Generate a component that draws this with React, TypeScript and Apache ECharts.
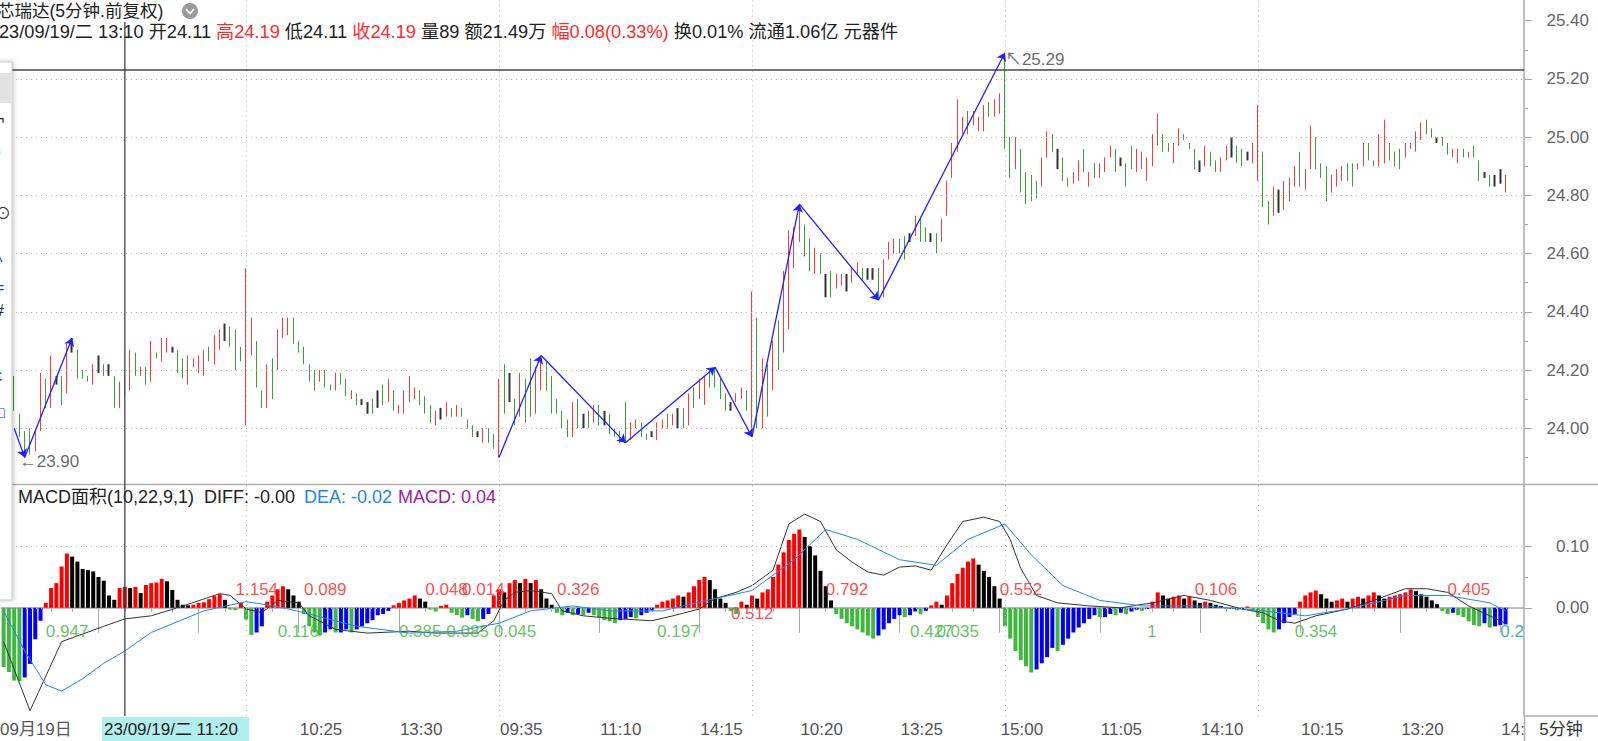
import React, { useEffect, useRef } from 'react';
import * as echarts from 'echarts';

const FONT = 'Arial, "Liberation Sans", "Noto Sans CJK SC", sans-serif';
const C_RED = '#ff3838';
const C_GREEN = '#3a9e3a';
const C_FLAT = '#333333';
const M_RED = '#ff0000';
const M_BLACK = '#000000';
const M_GREEN = '#40b840';
const M_BLUE = '#0000ff';

function hhmm(m: number) {
  return String(Math.floor(m / 60)).padStart(2, '0') + ':' + String(m % 60).padStart(2, '0');
}
const SESSION: string[] = [];
for (let m = 9 * 60 + 35; m <= 11 * 60 + 30; m += 5) SESSION.push(hhmm(m));
for (let m = 13 * 60 + 5; m <= 15 * 60; m += 5) SESSION.push(hhmm(m));

// 286 five-minute bars: 09-19 09:45 ... 09-26 15:00
const categories: string[] = Array.from({ length: 286 }, (_, j) => SESSION[(j + 2) % 48]);

const barHigh: (number | null)[] = [null, null,
  24.18,24.05,23.99,24.00,23.99,24.19,24.17,24.25,24.18,24.18,
  24.29,24.31,24.27,24.20,24.18,24.22,24.25,24.22,24.22,24.18,
  24.16,24.19,24.27,24.26,24.21,24.21,24.30,24.26,24.31,24.31,
  24.28,24.27,24.24,24.25,24.24,24.25,24.27,24.28,24.32,24.34,
  24.36,24.35,24.34,24.28,24.55,24.38,24.30,24.13,24.22,24.24,
  24.34,24.38,24.38,24.38,24.30,24.28,24.22,24.20,24.20,24.20,
  24.15,24.19,24.19,24.17,24.13,24.12,24.10,24.09,24.10,24.13,
  24.15,24.17,24.13,24.08,24.13,24.18,24.14,24.13,24.11,24.08,
  24.06,24.07,24.09,24.07,24.08,24.07,24.03,24.01,23.99,24.00,
  24.00,23.98,24.17,24.22,24.19,24.10,24.19,24.17,24.24,24.21,
  24.25,24.23,24.18,24.10,24.06,24.03,24.09,24.10,24.05,24.06,
  24.08,24.08,24.06,24.05,24.00,23.99,24.09,24.02,24.03,24.02,
  23.98,23.99,24.02,24.03,24.05,24.05,24.07,24.07,24.12,24.14,
  24.17,24.18,24.20,24.21,24.17,24.12,24.09,24.12,24.14,24.13,
  24.47,24.38,24.24,24.22,24.30,24.37,24.54,24.68,24.69,24.77,
  24.70,24.65,24.62,24.60,24.53,24.54,24.53,24.53,24.53,24.55,
  24.57,24.55,24.55,24.55,24.55,24.58,24.64,24.65,24.65,24.66,
  24.67,24.73,24.72,24.69,24.67,24.67,24.72,24.85,24.98,25.13,
  25.07,25.09,25.09,25.07,25.11,25.12,25.13,25.15,25.29,25.00,
  25.00,24.96,24.88,24.87,24.85,24.93,25.02,25.01,24.96,24.93,
  24.86,24.88,24.92,24.96,24.88,24.91,24.91,24.93,24.97,24.96,
  24.93,24.91,24.97,24.96,24.95,24.93,25.01,25.08,25.01,24.98,
  24.98,25.03,25.01,24.98,24.96,24.92,24.97,24.95,24.92,24.93,
  24.97,25.00,24.97,24.96,24.95,24.98,25.11,24.95,24.78,24.83,
  24.82,24.85,24.86,24.90,24.95,24.89,25.04,25.00,24.91,24.90,
  24.87,24.89,24.90,24.91,24.91,24.91,24.98,24.98,24.92,25.01,
  25.06,24.98,24.95,24.96,24.98,24.98,25.02,25.05,25.06,25.03,
  25.00,25.00,24.98,24.96,24.96,24.96,24.95,24.97,24.92,24.88,
  24.87,24.87,24.89,24.87];

const barLow: (number | null)[] = [null, null,
  24.06,23.97,23.90,23.91,23.92,23.99,24.07,24.07,24.15,24.08,
  24.12,24.26,24.17,24.17,24.16,24.15,24.19,24.18,24.18,24.07,
  24.07,24.11,24.13,24.18,24.18,24.15,24.16,24.24,24.23,24.26,
  24.26,24.19,24.17,24.15,24.21,24.19,24.18,24.23,24.22,24.27,
  24.30,24.28,24.20,24.23,24.01,24.25,24.14,24.07,24.07,24.10,
  24.20,24.31,24.32,24.29,24.26,24.22,24.16,24.13,24.16,24.14,
  24.13,24.13,24.15,24.11,24.10,24.08,24.08,24.05,24.05,24.07,
  24.08,24.09,24.06,24.05,24.05,24.09,24.10,24.08,24.05,24.02,
  24.01,24.03,24.04,24.04,24.04,24.04,24.00,23.97,23.97,23.95,
  23.95,23.93,23.90,24.05,24.09,24.01,24.04,24.02,24.04,24.05,
  24.13,24.13,24.05,24.05,24.00,23.97,23.97,24.00,24.00,24.00,
  24.02,24.01,24.01,23.98,23.97,23.95,23.95,23.96,24.00,23.97,
  23.96,23.97,23.96,24.00,24.00,24.01,24.00,24.00,24.01,24.07,
  24.10,24.08,24.14,24.14,24.10,24.06,24.06,24.09,24.10,24.06,
  23.97,24.00,24.00,24.04,24.13,24.20,24.26,24.34,24.55,24.64,
  24.59,24.54,24.53,24.53,24.45,24.45,24.48,24.49,24.47,24.50,
  24.53,24.51,24.51,24.51,24.44,24.45,24.58,24.60,24.60,24.58,
  24.64,24.66,24.64,24.64,24.64,24.60,24.64,24.73,24.86,24.95,
  25.01,25.01,25.04,25.02,25.02,25.07,25.07,25.08,24.96,24.86,
  24.89,24.81,24.77,24.78,24.79,24.83,24.93,24.95,24.89,24.85,
  24.83,24.84,24.85,24.88,24.83,24.86,24.86,24.88,24.93,24.88,
  24.90,24.83,24.89,24.88,24.89,24.85,24.90,24.97,24.95,24.95,
  24.91,24.97,24.99,24.96,24.89,24.88,24.90,24.90,24.88,24.88,
  24.92,24.93,24.91,24.90,24.92,24.91,24.85,24.76,24.70,24.73,
  24.74,24.75,24.78,24.83,24.83,24.82,24.89,24.89,24.86,24.78,
  24.81,24.83,24.85,24.85,24.83,24.89,24.90,24.92,24.90,24.90,
  24.91,24.92,24.90,24.89,24.93,24.96,24.95,24.99,25.01,25.00,
  24.98,24.97,24.94,24.93,24.91,24.93,24.93,24.93,24.85,24.86,
  24.83,24.83,24.84,24.81];

// u = close above open, d = close below open, f = open equals close, - = hidden
const barMove =
  '--' +
  'dddduudufd' + 'ufdddufdfd' + 'uuudududuu' + 'fdduuuuduu' + 'fddduuddud' +
  'uuudddddud' + 'duddudffdf' + 'duduuuuddd' + 'ufududddfu' + 'ddudfduddu' +
  'udddddudfd' + 'udfdddduud' + 'dfuudufdud' + 'uuddddfuud' + 'udududuuuu' +
  'ddudfduufu' + 'udffduuudd' + 'fuddfduuuu' + 'uduuuduudd' + 'udddduudfd' +
  'duududuuud' + 'fdduuuuudd' + 'uudddfuddu' + 'ufddfuuddu' + 'fuuuduuddd' +
  'uuudduuddu' + 'uddduuuudd' + 'fdduududdf' + 'dffu';

const macdHist: number[] = [
  -0.096,-0.104,-0.118,-0.119,-0.113,-0.091,-0.051,-0.021,0.008,0.032,
  0.040,0.067,0.088,0.083,0.075,0.063,0.061,0.059,0.050,0.044,
  0.020,0.013,0.032,0.034,0.032,0.034,0.024,0.037,0.040,0.041,
  0.047,0.043,0.029,0.013,0.005,0.004,0.005,0.008,0.009,0.014,
  0.019,0.022,0.013,-0.003,-0.004,0.008,-0.019,-0.044,
  -0.04,-0.03,0.01,0.02,0.03,0.035,0.03,0.02,0.01,-0.01,
  -0.03,-0.04,-0.045,-0.04,-0.035,-0.04,-0.04,-0.035,-0.04,-0.035,
  -0.03,-0.025,-0.02,-0.012,-0.01,-0.005,0.004,0.008,0.012,0.015,
  0.02,0.015,0.01,-0.003,-0.006,0.003,0.005,-0.008,-0.012,-0.016,
  -0.012,-0.018,-0.022,-0.018,-0.01,0.02,0.03,0.025,0.04,0.045,
  0.04,0.047,0.04,0.045,0.03,0.015,0.005,-0.008,-0.012,-0.008,
  -0.012,-0.01,-0.012,-0.008,-0.012,-0.015,-0.02,-0.022,-0.025,-0.02,
  -0.018,-0.015,-0.017,-0.012,-0.008,-0.004,0.005,0.01,0.012,0.015,
  0.02,0.018,0.025,0.035,0.045,0.05,0.045,0.03,0.015,0.008,
  -0.005,-0.01,0.01,0.005,0.02,0.015,0.025,0.03,0.05,0.07,
  0.09,0.11,0.12,0.127,0.115,0.1,0.085,0.06,0.035,0.012,
  -0.01,-0.018,-0.025,-0.03,-0.035,-0.04,-0.045,-0.05,-0.045,-0.035,
  -0.025,-0.018,-0.012,-0.015,-0.012,-0.006,-0.01,-0.005,0.004,0.01,
  0.005,0.02,0.04,0.055,0.065,0.075,0.08,0.07,0.06,0.05,
  0.035,0.015,-0.03,-0.05,-0.07,-0.085,-0.095,-0.105,-0.1,-0.09,
  -0.08,-0.065,-0.07,-0.06,-0.05,-0.04,-0.032,-0.025,-0.018,-0.012,
  -0.015,-0.015,-0.01,-0.012,-0.008,-0.01,-0.006,-0.003,-0.005,-0.002,
  0.01,0.025,0.02,0.015,0.018,0.02,0.015,0.018,0.012,0.008,
  0.01,0.008,0.005,0.003,-0.002,-0.002,-0.004,-0.002,0.002,-0.005,
  -0.015,-0.025,-0.035,-0.04,-0.035,-0.025,-0.015,-0.01,0.01,0.02,
  0.025,0.028,0.022,0.015,0.01,0.012,0.015,0.01,0.015,0.018,
  0.015,0.02,0.025,0.02,0.015,0.018,0.02,0.022,0.025,0.03,
  0.027,0.022,0.018,0.012,0.006,-0.005,-0.01,-0.008,-0.012,-0.015,
  -0.022,-0.028,-0.03,-0.025,-0.032,-0.03,-0.028,-0.027];

// DIFF / DEA read at key bars
const diffKeys: [number, number][] = [
  [0,-0.055],[5,-0.167],[11,-0.055],[19,-0.03],[23,-0.018],[28,-0.013],[33,0],[41,0.023],[43,0.02],
  [46,-0.002],[49,-0.008],[52,0.012],[56,0.008],[58,-0.013],[63,-0.035],[69,-0.041],[77,-0.038],[82,-0.041],
  [90,-0.041],[93,-0.021],[95,0.012],[97,0.025],[100,0.028],[104,0.023],[106,-0.005],[110,-0.013],[115,-0.017],
  [123,-0.021],[127,-0.013],[132,-0.002],[135,0.015],[139,0.025],[142,0.036],[146,0.061],[149,0.136],[152,0.152],
  [155,0.14],[158,0.094],[161,0.074],[164,0.058],[167,0.053],[170,0.066],[173,0.068],[176,0.061],[179,0.102],
  [182,0.14],[186,0.147],[189,0.14],[191,0.111],[193,0.064],[196,0.02],[200,0.008],[206,0.003],[212,0],
  [218,0.008],[224,0.02],[229,0.012],[235,-0.002],[239,-0.008],[242,-0.021],[245,-0.025],[249,-0.013],
  [255,-0.002],[260,0.012],[266,0.031],[270,0.031],[274,0.025],[278,0.003],[282,-0.013],[285,-0.025]];
const deaKeys: [number, number][] = [
  [0,-0.005],[4,-0.07],[8,-0.125],[11,-0.135],[15,-0.115],[19,-0.09],[23,-0.07],[28,-0.04],[38,-0.005],[46,0.01],[52,0.002],[57,-0.008],
  [67,-0.03],[77,-0.041],[86,-0.038],[94,-0.025],[100,-0.005],[108,0.003],[115,-0.005],[125,-0.005],[135,0.015],
  [142,0.028],[150,0.078],[156,0.127],[162,0.111],[170,0.078],[177,0.069],[183,0.111],[190,0.136],[195,0.086],
  [201,0.036],[208,0.012],[216,0.003],[228,0.003],[239,-0.005],[247,-0.013],[255,-0.002],[266,0.02],[274,0.02],
  [282,0.008],[285,-0.005]];

// MACD area annotations
const areaLabelIndex = [8, 44, 52, 57, 75, 80, 84, 87, 93, 105, 124, 138, 156, 172, 177, 189, 217, 226, 245, 274, 284];
const areaLabelText = ['0.947','1.154','0.116','0.089','0.385','0.048','0.085','0.014','0.045','0.326','0.197','0.512','0.792','0.427','0.035','0.552','1','0.106','0.354','0.405','0.2'];
const areaLabelY = [-0.038,0.03,-0.038,0.03,-0.038,0.03,-0.038,0.03,-0.038,0.03,-0.038,-0.009,0.03,-0.038,-0.038,0.03,-0.038,0.03,-0.038,0.03,-0.038];
const areaLabelSign = [-1,1,-1,1,-1,1,-1,1,-1,1,-1,1,1,-1,-1,1,-1,1,-1,1,0];

// zig-zag trend annotations (bar index, price), two separate strokes
const zigzagStrokes: [number, number][][] = [
  [[2, 24.0], [4, 23.90], [13, 24.31]],
  [[94, 23.90], [102, 24.25], [118, 23.95], [135, 24.21], [142, 23.97], [151, 24.77], [166, 24.44], [190, 25.29]],
];

const priceLabels = [24.0, 24.2, 24.4, 24.6, 24.8, 25.0, 25.2, 25.4];
const priceMinorTicks = [23.9, 24.1, 24.3, 24.5, 24.7, 24.9, 25.1, 25.3];
const priceGridLevels = [24.0, 24.2, 24.4, 24.6, 24.8, 25.0, 25.2];
const macdLabels = [0, 0.1];
const macdMinorTicks = [0.05];
const dayStartIndex = [46, 94, 142, 190, 238];
const xTickIndex = [18, 37, 56, 75, 94, 113, 132, 151, 170, 189, 208, 227, 246, 265, 284];
const xLabelIndex = [56, 75, 94, 113, 132, 151, 170, 189, 208, 227, 246, 265, 284];
const xMinorOffsets = [-14, -9, -5];
const CROSS_INDEX = 23;
const CROSS_PRICE = 25.23;
const lowMark: [number, number] = [4, 23.90];
const highMark: [number, number] = [190, 25.29];

const PRICE_MIN = 23.8;
const PRICE_MAX = 25.471;
const MACD_MIN = -0.1755;
const MACD_MAX = 0.2;

const tickSet = new Set(xTickIndex);
const labelSet = new Set(xLabelIndex);
const minorSet = new Set<number>();
xTickIndex.forEach((l) => xMinorOffsets.forEach((o) => minorSet.add(l + o)));
[284 + 5].forEach((v) => minorSet.add(v));

function sparse(keys: [number, number][]) {
  const arr: (number | null)[] = new Array(categories.length).fill(null);
  keys.forEach(([j, v]) => (arr[j] = v));
  return arr;
}

function buildOption(): any {
  const candleData = barHigh.map((h, j) => {
    const l = barLow[j];
    const m = barMove[j];
    if (h == null || l == null) return '-';
    if (j === CROSS_INDEX) {
      return { value: [l, h, l, h], itemStyle: { color: '#55c4c4', borderColor: '#55c4c4' } };
    }
    if (m === 'u') return [l, h, l, h];
    if (m === 'd') return [h, l, l, h];
    return {
      value: [h, h, l, h],
      itemStyle: { color: C_FLAT, color0: C_FLAT, borderColor: C_FLAT, borderColor0: C_FLAT, borderColorDoji: C_FLAT, borderWidth: 2 },
    };
  });

  const histData = macdHist.map((v, j) => {
    const prev = j > 0 ? macdHist[j - 1] : v;
    let c: string;
    if (v >= 0) c = v >= prev ? M_RED : M_BLACK;
    else c = j === 0 || v < prev ? M_GREEN : M_BLUE;
    return { value: v, itemStyle: { color: c } };
  });

  const zigSegments: any[] = [];
  zigzagStrokes.forEach((pts) => {
    for (let k = 1; k < pts.length; k++) zigSegments.push({ coords: [pts[k - 1], pts[k]] });
  });

  const dotted = { type: [1, 4], color: '#b5b5b5', width: 1 };
  const xBase = { type: 'category', data: categories, max: 288, boundaryGap: true };
  const hiddenX = (gridIndex: number) => ({ ...xBase, gridIndex, show: false });
  const axisGray = '#aaaaaa';
  const yLabel = {
    formatter: (v: number) => v.toFixed(2),
    align: 'right',
    margin: 65,
    fontSize: 17,
    color: '#666666',
    fontFamily: FONT,
  };

  return {
    animation: false,
    backgroundColor: '#ffffff',
    textStyle: { fontFamily: FONT },
    grid: [
      { left: 1, right: 74, top: 0, height: 486.5 },
      { left: 1, right: 74, top: 484.5, height: 231.5 },
      { left: 1, right: 74, top: 484.5, height: 231.5 },
      { left: 1, right: 74, top: 0, height: 486.5 },
    ],
    xAxis: [
      hiddenX(0),
      {
        ...xBase,
        gridIndex: 1,
        axisLine: { show: true, lineStyle: { color: axisGray, width: 1.5 } },
        axisTick: { show: true, alignWithLabel: true, length: 4, interval: (i: number) => minorSet.has(i), lineStyle: { color: axisGray } },
        axisLabel: {
          show: true,
          interval: (i: number) => labelSet.has(i),
          align: 'left',
          margin: 5,
          padding: [0, 0, 0, 1],
          fontSize: 17,
          color: '#555555',
          fontFamily: FONT,
        },
        splitLine: { show: false },
      },
      {
        ...xBase,
        gridIndex: 2,
        axisLine: { show: false },
        axisTick: { show: true, alignWithLabel: true, length: 25, interval: (i: number) => tickSet.has(i), lineStyle: { color: axisGray } },
        axisLabel: { show: false },
        splitLine: { show: false },
      },
      hiddenX(3),
    ],
    yAxis: [
      {
        gridIndex: 0,
        type: 'value',
        position: 'right',
        min: PRICE_MIN,
        max: PRICE_MAX,
        axisLine: { show: true, lineStyle: { color: axisGray, width: 1.5 } },
        axisTick: { show: true, length: 8, customValues: priceLabels, lineStyle: { color: axisGray } },
        axisLabel: { ...yLabel, customValues: priceLabels },
        splitLine: { show: false },
      },
      {
        gridIndex: 1,
        type: 'value',
        position: 'right',
        min: MACD_MIN,
        max: MACD_MAX,
        axisLine: { show: true, lineStyle: { color: axisGray, width: 1.5 } },
        axisTick: { show: true, length: 8, customValues: macdLabels, lineStyle: { color: axisGray } },
        axisLabel: { ...yLabel, customValues: macdLabels },
        splitLine: { show: false },
      },
      {
        gridIndex: 2,
        type: 'value',
        position: 'right',
        min: MACD_MIN,
        max: MACD_MAX,
        axisLine: { show: false },
        axisTick: { show: true, length: 4, customValues: macdMinorTicks, lineStyle: { color: axisGray } },
        axisLabel: { show: false },
        splitLine: { show: false },
      },
      {
        gridIndex: 3,
        type: 'value',
        position: 'right',
        min: PRICE_MIN,
        max: PRICE_MAX,
        axisLine: { show: false },
        axisTick: { show: true, length: 4, customValues: priceMinorTicks, lineStyle: { color: axisGray } },
        axisLabel: { show: false },
        splitLine: { show: false },
      },
    ],
    series: [
      {
        type: 'candlestick',
        xAxisIndex: 0,
        yAxisIndex: 0,
        barWidth: 1,
        data: candleData,
        itemStyle: { color: C_RED, color0: C_GREEN, borderColor: C_RED, borderColor0: C_GREEN, borderColorDoji: C_FLAT, borderWidth: 1 },
        markLine: {
          silent: true,
          symbol: ['none', 'none'],
          label: { show: false },
          lineStyle: dotted,
          data: [
            ...priceGridLevels.map((p) => ({ yAxis: p })),
            ...dayStartIndex.map((j) => ({ xAxis: j })),
            { yAxis: CROSS_PRICE, lineStyle: { type: 'solid', color: '#444444', width: 1.5 } },
          ],
        },
        z: 3,
      },
      {
        type: 'lines',
        coordinateSystem: 'cartesian2d',
        xAxisIndex: 0,
        yAxisIndex: 0,
        polyline: false,
        symbol: ['none', 'arrow'],
        symbolSize: 8,
        lineStyle: { color: '#1f1fff', width: 1.3, opacity: 1 },
        data: zigSegments,
        z: 5,
      },
      {
        type: 'scatter',
        xAxisIndex: 0,
        yAxisIndex: 0,
        symbolSize: 0,
        silent: true,
        data: [
          { value: lowMark, name: '←' + lowMark[1].toFixed(2), label: { offset: [-5, 4] } },
          { value: highMark, name: '↖' + highMark[1].toFixed(2), label: { offset: [0, 7] } },
        ],
        label: { show: true, position: 'right', distance: 0, formatter: '{b}', fontSize: 17, color: '#444444', fontFamily: FONT },
        z: 6,
      },
      {
        type: 'bar',
        xAxisIndex: 1,
        yAxisIndex: 1,
        barWidth: 4,
        data: histData,
        markLine: {
          silent: true,
          symbol: ['none', 'none'],
          label: { show: false },
          lineStyle: dotted,
          data: [...macdLabels.map((v) => ({ yAxis: v })), ...dayStartIndex.map((j) => ({ xAxis: j }))],
        },
        z: 2,
      },
      {
        type: 'line',
        xAxisIndex: 1,
        yAxisIndex: 1,
        data: sparse(diffKeys),
        connectNulls: true,
        showSymbol: false,
        lineStyle: { color: '#333333', width: 1 },
        z: 4,
      },
      {
        type: 'line',
        xAxisIndex: 1,
        yAxisIndex: 1,
        data: sparse(deaKeys),
        connectNulls: true,
        showSymbol: false,
        lineStyle: { color: '#1e88e5', width: 1 },
        z: 4,
      },
      {
        type: 'scatter',
        xAxisIndex: 1,
        yAxisIndex: 1,
        symbolSize: 0,
        silent: true,
        data: areaLabelIndex.map((j, k) => ({
          value: [j, areaLabelY[k]],
          name: areaLabelText[k],
          label: { color: areaLabelSign[k] > 0 ? '#ff2020' : areaLabelSign[k] < 0 ? '#3cb43c' : '#159a9a' },
        })),
        label: { show: true, position: 'right', distance: 0, formatter: '{b}', fontSize: 17, fontFamily: FONT },
        z: 6,
      },
    ],
  };
}

function txt(text: string, x: number, y: number, fill: string, size = 17, z = 50, align = 'left') {
  return {
    type: 'text',
    z,
    style: { text, x, y, fill, font: size + 'px ' + FONT, verticalAlign: 'middle', align },
  };
}

function buildGraphics(crossX: number): any[] {
  const c = CROSS_INDEX;
  const o = barLow[c] as number;
  const h = barHigh[c] as number;
  const HS = 18.2;
  const rich = (fill: string) => ({ fill, fontSize: HS, fontFamily: FONT });
  const headerLine =
    `{d|23/09/19/二 ${categories[c]} 开${o.toFixed(2)} }{r|高${h.toFixed(2)}}{d| 低${o.toFixed(2)} }{r|收${h.toFixed(2)}}` +
    `{d| 量89 额21.49万 }{r|幅0.08(0.33%)}{d| 换0.01% 流通1.06亿 元器件}`;
  const toolbarGlyphs: [string, number, string][] = [
    ['¬', 118, '#222'], ['▪', 152, '#222'], ['/', 178, '#2233ee'], ['⊙', 213, '#333'], ['^', 262, '#2233ee'],
    ['=', 287, '#2233ee'], ['#', 310, '#222'], ['|', 350, '#222'], ['ε', 375, '#2233ee'], ['□', 412, '#2233ee'],
  ];
  return [
    { type: 'line', z: 40, shape: { x1: crossX, y1: 22, x2: crossX, y2: 716 }, style: { stroke: '#333', lineWidth: 1.2 } },
    txt('芯瑞达(5分钟.前复权)', -3, 10.5, '#222', 17.5),
    { type: 'circle', z: 50, shape: { cx: 190, cy: 11, r: 8 }, style: { fill: '#9a9a9a' } },
    { type: 'polyline', z: 51, shape: { points: [[186, 9], [190, 13.5], [194, 9]] }, style: { stroke: '#fff', lineWidth: 1.6, fill: null } },
    {
      type: 'text',
      z: 50,
      style: { text: headerLine, x: -1, y: 31.5, verticalAlign: 'middle', font: HS + 'px ' + FONT, rich: { d: rich('#222'), r: rich('#ff2a2a') } },
    },
    { type: 'line', z: 30, shape: { x1: 0, y1: 484.5, x2: 1598, y2: 484.5 }, style: { stroke: '#b0b0b0', lineWidth: 1.5 } },
    { type: 'line', z: 30, shape: { x1: 1524, y1: 716, x2: 1598, y2: 716 }, style: { stroke: '#b0b0b0', lineWidth: 1.5 } },
    txt('MACD面积(10,22,9,1)', 18, 497, '#222', 18),
    txt('DIFF: -0.00', 204, 497, '#222', 18),
    txt('DEA: -0.02', 304, 497, '#1e88e5', 18),
    txt('MACD: 0.04', 398, 497, '#a020a0', 18),
    { type: 'circle', z: 60, shape: { cx: 1, cy: 480, r: 5 }, style: { fill: '#ffe21a', stroke: '#d8c040' } },
    { type: 'circle', z: 60, shape: { cx: 1, cy: 497, r: 5 }, style: { fill: '#fff', stroke: '#555', lineWidth: 1.2 } },
    { type: 'rect', z: 60, shape: { x: -2, y: 62, width: 14, height: 538 }, style: { fill: '#ffffff', stroke: '#c8c8c8', lineWidth: 1, shadowBlur: 4, shadowColor: 'rgba(0,0,0,0.25)', shadowOffsetX: 1 } },
    { type: 'rect', z: 61, shape: { x: 0, y: 73, width: 11, height: 30 }, style: { fill: '#e2e2e2' } },
    ...toolbarGlyphs.map(([g, y, col]) => txt(g, -5, y, col, 16, 62)),
    txt('09月19日', 0, 729, '#555'),
    { type: 'rect', z: 70, shape: { x: 102, y: 717, width: 147, height: 24 }, style: { fill: '#b2eeee' } },
    txt('23/09/19/二 11:20', 104, 729, '#222', 17, 72),
    { type: 'rect', z: 70, shape: { x: 1525, y: 717, width: 73, height: 24 }, style: { fill: '#ffffff' } },
    { type: 'line', z: 71, shape: { x1: 1524.5, y1: 716, x2: 1524.5, y2: 741 }, style: { stroke: '#b0b0b0', lineWidth: 1.5 } },
    txt('5分钟', 1561, 729, '#333', 17, 72, 'center'),
  ];
}

export default function App() {
  const ref = useRef<HTMLDivElement>(null);
  useEffect(() => {
    if (!ref.current) return;
    const chart = echarts.init(ref.current, null, { renderer: 'svg' });
    chart.setOption(buildOption());
    const crossX = chart.convertToPixel({ xAxisIndex: 0 }, CROSS_INDEX) as number;
    chart.setOption({ graphic: buildGraphics(crossX) });
    return () => chart.dispose();
  }, []);
  return (
    <div
      ref={ref}
      style={{ position: 'fixed', left: 0, top: 0, width: 1598, height: 741, background: '#ffffff' }}
    />
  );
}
